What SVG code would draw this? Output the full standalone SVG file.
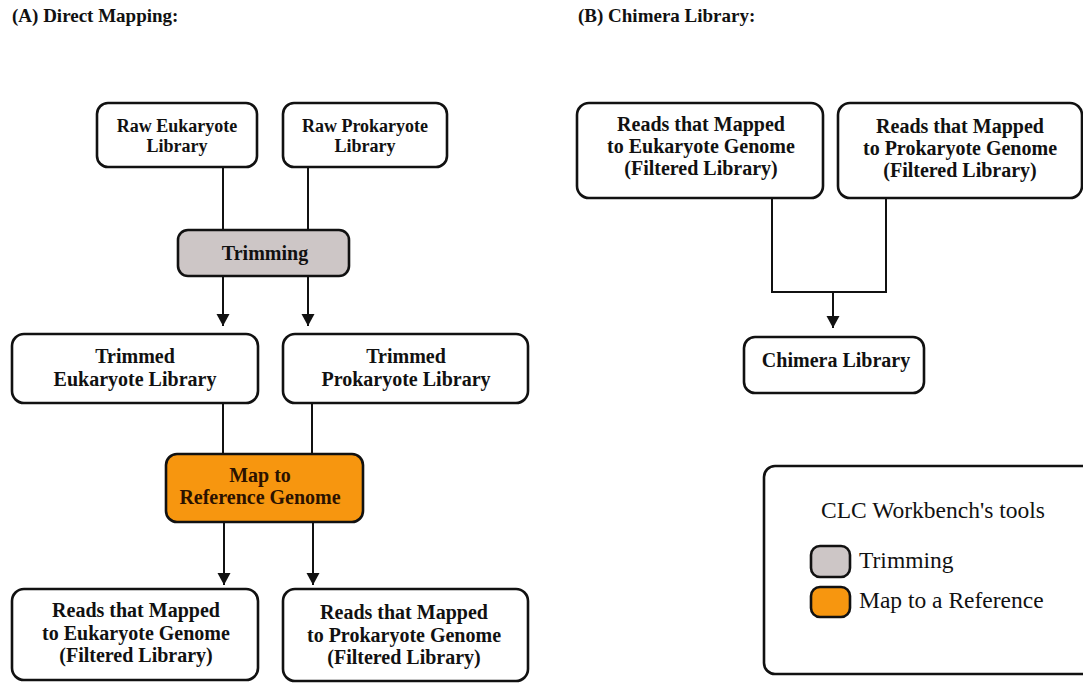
<svg xmlns="http://www.w3.org/2000/svg" width="1083" height="684" viewBox="0 0 1083 684">
<style>
.box{fill:#fff;stroke:#111;stroke-width:2.6}
.trim{fill:#cdc6c6;stroke:#111;stroke-width:2.6}
.map{fill:#f7960f;stroke:#111;stroke-width:2.6}
.t{font-family:"Liberation Serif","Times New Roman",serif;font-weight:bold;font-size:20px;fill:#111;text-anchor:middle}
.raw{font-size:18px}
.title{font-family:"Liberation Serif","Times New Roman",serif;font-weight:bold;font-size:19px;fill:#111}
.leg{font-family:"Liberation Serif","Times New Roman",serif;font-size:23.5px;fill:#111}
.c{fill:none;stroke:#111;stroke-width:2}
</style>
<defs>
<marker id="arr" markerUnits="userSpaceOnUse" markerWidth="14" markerHeight="14" viewBox="0 0 14 14" refX="13" refY="7" orient="auto">
<path d="M1,0.5 L13,7 L1,13.5 Z" fill="#111"/>
</marker>
</defs>
<rect width="1083" height="684" fill="#fff"/>
<text class="title" x="12" y="22">(A) Direct Mapping:</text>
<text class="title" x="578" y="22">(B) Chimera Library:</text>

<g id="connectors">
<line class="c" x1="223" y1="167" x2="223" y2="230"/>
<line class="c" x1="308" y1="167" x2="308" y2="230"/>
<line class="c" x1="223" y1="276" x2="223" y2="326" marker-end="url(#arr)"/>
<line class="c" x1="308" y1="276" x2="308" y2="326" marker-end="url(#arr)"/>
<line class="c" x1="223" y1="403" x2="223" y2="454"/>
<line class="c" x1="312" y1="403" x2="312" y2="454"/>
<line class="c" x1="224" y1="522" x2="224" y2="585" marker-end="url(#arr)"/>
<line class="c" x1="313" y1="522" x2="313" y2="585" marker-end="url(#arr)"/>
<polyline class="c" points="772,198 772,292 886,292 886,198"/>
<line class="c" x1="833" y1="292" x2="833" y2="328" marker-end="url(#arr)"/>
</g>

<g id="raw-euk">
<rect class="box" x="97" y="103" width="160" height="64" rx="11"/>
<text class="t raw" x="177" y="132">Raw Eukaryote</text>
<text class="t raw" x="177" y="152">Library</text>
</g>
<g id="raw-prok">
<rect class="box" x="283" y="103" width="164" height="64" rx="11"/>
<text class="t raw" x="365" y="132">Raw Prokaryote</text>
<text class="t raw" x="365" y="152">Library</text>
</g>
<g id="trimming">
<rect class="trim" x="178" y="230" width="171" height="46" rx="10"/>
<text class="t" x="265" y="260">Trimming</text>
</g>
<g id="trimmed-euk">
<rect class="box" x="12" y="334" width="246" height="69" rx="12"/>
<text class="t" x="135" y="363">Trimmed</text>
<text class="t" x="135" y="386">Eukaryote Library</text>
</g>
<g id="trimmed-prok">
<rect class="box" x="283" y="334" width="245" height="69" rx="12"/>
<text class="t" x="406" y="363">Trimmed</text>
<text class="t" x="406" y="386">Prokaryote Library</text>
</g>
<g id="map-ref">
<rect class="map" x="166" y="454" width="197" height="68" rx="11"/>
<text class="t" x="260" y="482" style="fill:#2b1200">Map to</text>
<text class="t" x="260" y="504" style="fill:#2b1200">Reference Genome</text>
</g>
<g id="mapped-euk">
<rect class="box" x="12" y="589" width="246" height="91" rx="12"/>
<text class="t" x="136" y="617">Reads that Mapped</text>
<text class="t" x="136" y="640">to Eukaryote Genome</text>
<text class="t" x="136" y="662">(Filtered Library)</text>
</g>
<g id="mapped-prok">
<rect class="box" x="283" y="589" width="245" height="92" rx="12"/>
<text class="t" x="404" y="619">Reads that Mapped</text>
<text class="t" x="404" y="642">to Prokaryote Genome</text>
<text class="t" x="404" y="664">(Filtered Library)</text>
</g>

<g id="b-mapped-euk">
<rect class="box" x="577" y="103" width="246" height="95" rx="12"/>
<text class="t" x="701" y="131">Reads that Mapped</text>
<text class="t" x="701" y="153">to Eukaryote Genome</text>
<text class="t" x="701" y="175">(Filtered Library)</text>
</g>
<g id="b-mapped-prok">
<rect class="box" x="838" y="103" width="244" height="95" rx="12"/>
<text class="t" x="960" y="133">Reads that Mapped</text>
<text class="t" x="960" y="155">to Prokaryote Genome</text>
<text class="t" x="960" y="177">(Filtered Library)</text>
</g>
<g id="chimera">
<rect class="box" x="744" y="337" width="180" height="56" rx="11"/>
<text class="t" x="836" y="367">Chimera Library</text>
</g>

<g id="legend">
<rect class="box" x="764" y="466" width="340" height="208" rx="11"/>
<text class="leg" x="933" y="518" text-anchor="middle">CLC Workbench's tools</text>
<rect class="trim" x="811" y="546" width="39" height="31" rx="9"/>
<text class="leg" x="859" y="568">Trimming</text>
<rect class="map" x="811" y="587" width="39" height="30" rx="9"/>
<text class="leg" x="859" y="608">Map to a Reference</text>
</g>
</svg>
